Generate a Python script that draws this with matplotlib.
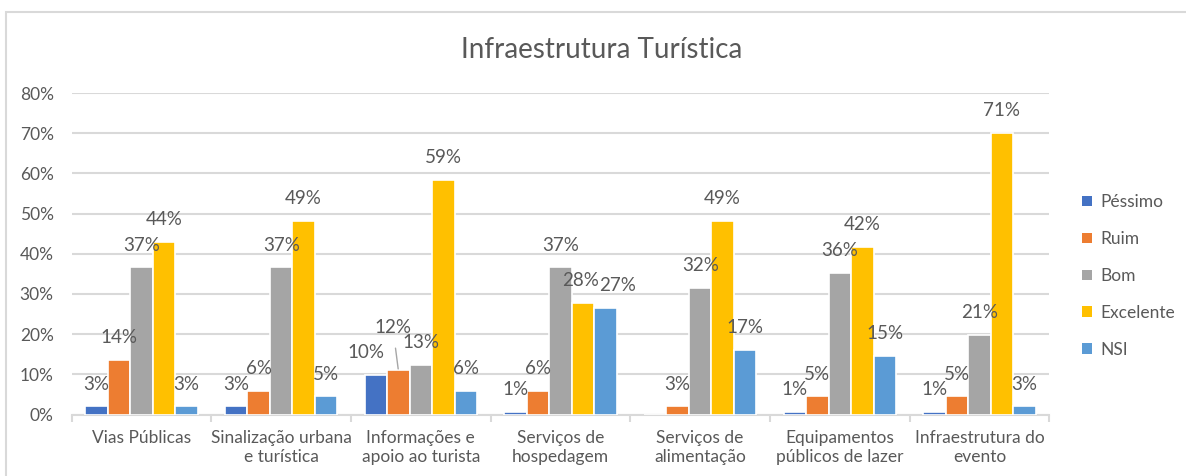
import matplotlib.pyplot as plt
import numpy as np
from matplotlib.patches import Patch, Rectangle

plt.rcParams['font.family'] = ['Lato', 'DejaVu Sans']

# ---------------- data ----------------
categories = ['Vias Públicas', 'Sinalização urbana\ne turística', 'Informações e\napoio ao turista',
              'Serviços de\nhospedagem', 'Serviços de\nalimentação', 'Equipamentos\npúblicos de lazer',
              'Infraestrutura do\nevento']
series = ['Péssimo', 'Ruim', 'Bom', 'Excelente', 'NSI']

pessimo = [0.020, 0.020, 0.098, 0.007, 0.000, 0.007, 0.007]
ruim = [0.136, 0.058, 0.110, 0.058, 0.020, 0.045, 0.045]
bom = [0.366, 0.366, 0.124, 0.366, 0.316, 0.353, 0.199]
excelente = [0.430, 0.482, 0.584, 0.277, 0.482, 0.418, 0.700]
nsi = [0.020, 0.045, 0.058, 0.265, 0.160, 0.146, 0.020]

# data labels as printed on the chart
lbl_pessimo = ['3%', '3%', '10%', '1%', '', '1%', '1%']
lbl_ruim = ['14%', '6%', '12%', '6%', '3%', '5%', '5%']
lbl_bom = ['37%', '37%', '13%', '37%', '32%', '36%', '21%']
lbl_excelente = ['44%', '49%', '59%', '28%', '49%', '42%', '71%']
lbl_nsi = ['3%', '5%', '6%', '27%', '17%', '15%', '3%']

colors = ['#4472C4', '#ED7D31', '#A5A5A5', '#FFC000', '#5B9BD5']
txt = '#595959'
grid = '#D9D9D9'

values = [pessimo, ruim, bom, excelente, nsi]
labels = [lbl_pessimo, lbl_ruim, lbl_bom, lbl_excelente, lbl_nsi]

# ---------------- figure ----------------
W, H = 1186, 476
fig = plt.figure(figsize=(W / 100, H / 100), dpi=100)
fig.patches.append(Rectangle((5.7 / W, -0.05), 1.2, 1 - 12 / H + 0.05, transform=fig.transFigure,
                             fill=False, edgecolor=grid, lw=1.5))

x0, x1, yb, yt = 71.7, 1049.3, 414.5, 93.0
ax = fig.add_axes([x0 / W, 1 - yb / H, (x1 - x0) / W, (yb - yt) / H])

x = np.arange(len(categories))
w = 0.161
for i, (vals, lbls) in enumerate(zip(values, labels)):
    xs = x + (i - 2) * w
    ax.bar(xs, vals, w, color=colors[i], edgecolor='white', lw=1.2, label=series[i], zorder=3)
    for j, (xx, v, s) in enumerate(zip(xs, vals, lbls)):
        if not s:
            continue
        dx, dy = 0, 16
        arrow = None
        if i == 0 and j == 2:
            dx = -7
        if i == 1 and j == 2:
            dx, dy = -4, 31
            arrow = dict(arrowstyle='-', color='#A6A6A6', lw=1, shrinkA=7, shrinkB=1)
        if i == 3 and j == 3:
            dx = -2
        if i == 4 and j == 3:
            dx = 9
        ax.annotate(s, xy=(xx, v), xytext=(dx, dy), textcoords='offset points',
                    ha='center', va='center', fontsize=13.5, color=txt,
                    arrowprops=arrow, zorder=4)

ax.set_xlim(-0.5, len(categories) - 0.5)
ax.set_ylim(0, 0.8)
ax.set_yticks(np.arange(0, 0.81, 0.1))
ax.set_yticklabels([f'{int(round(t * 100))}%' for t in np.arange(0, 0.81, 0.1)])
ax.yaxis.grid(True, color=grid, lw=1.5, zorder=0)
ax.set_axisbelow(True)

ax.set_xticks(x)
ax.set_xticklabels(categories, linespacing=1.25)
ax.set_xticks(np.arange(-0.5, len(categories)), minor=True)
ax.tick_params(axis='x', which='major', length=0, pad=11, labelsize=12.5, labelcolor=txt)
ax.tick_params(axis='x', which='minor', length=5, width=1.5, color=grid, direction='out')
ax.tick_params(axis='y', length=0, pad=13, labelsize=12.5, labelcolor=txt)

for sp in ['top', 'right', 'left']:
    ax.spines[sp].set_visible(False)
ax.spines['bottom'].set_color(grid)
ax.spines['bottom'].set_linewidth(1.5)

fig.text(602 / W, 1 - 50 / H, 'Infraestrutura Turística', ha='center', va='center',
         fontsize=20, color=txt)

handles = [Patch(facecolor=c, edgecolor='none') for c in colors]
fig.legend(handles, series, loc='center left', bbox_to_anchor=(1082 / W, 1 - 276 / H),
           frameon=False, fontsize=12.5, labelcolor=txt, handlelength=0.55, handleheight=0.55,
           handletextpad=0.5, labelspacing=1.2, borderaxespad=0, borderpad=0)

fig.savefig('out.png', dpi=100)
